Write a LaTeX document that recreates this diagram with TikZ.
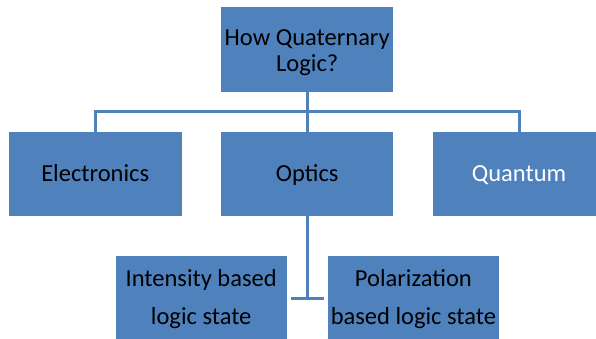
\documentclass[tikz,border=0pt]{standalone}
\usepackage{fontspec}
\setmainfont{Carlito}
\definecolor{boxblue}{HTML}{4F81BD}
\begin{document}
\begin{tikzpicture}[x=1pt,y=-1pt,
  box/.style={fill=boxblue,draw=none,inner sep=0pt,align=center},
  one/.style={font=\fontsize{24.5}{29}\selectfont,text height=17pt,text depth=3.4pt},
  conn/.style={draw=boxblue,line width=3pt}]
\useasboundingbox (0,0) rectangle (596,338);
\clip (0,0) rectangle (596,338);
\node[box,minimum width=172.5pt,minimum height=84.4pt,font=\fontsize{24.5}{26.7}\selectfont,text height=49.4pt,text depth=5pt] (top) at (307.2,49.5) {How Quaternary\\Logic?};
\node[box,one,minimum width=173pt,minimum height=84pt] (elec) at (95.2,174.2) {Electronics};
\node[box,one,minimum width=172.5pt,minimum height=84pt] (opt) at (307.2,174.2) {Optics};
\node[box,one,minimum width=172pt,minimum height=84pt,text=white] (quant) at (519,174.2) {Quantum};
\node[box,minimum width=171pt,minimum height=89pt,font=\fontsize{24.5}{37.3}\selectfont,text height=52pt,text depth=5pt] (inten) at (201.2,300.5) {Intensity based\\logic state};
\node[box,minimum width=171.3pt,minimum height=89pt,font=\fontsize{24.5}{37.3}\selectfont,text height=52pt,text depth=5pt] (polar) at (413.4,300.5) {Polarization\\based logic state};
\coordinate (bar) at (307.2,111.7);
\coordinate (foot) at (307.2,298.3);
\draw[conn] ([yshift=3.3pt]top.south) -- ([yshift=-3.3pt]opt.north);
\draw[conn] ([yshift=-3.3pt]elec.north) |- (bar) -| ([yshift=-3.3pt]quant.north);
\draw[conn] ([yshift=3.8pt]opt.south) -- (foot);
\draw[conn] ([xshift=4pt]inten.east |- foot) -- ([xshift=-3.7pt]polar.west |- foot);
\end{tikzpicture}
\end{document}
